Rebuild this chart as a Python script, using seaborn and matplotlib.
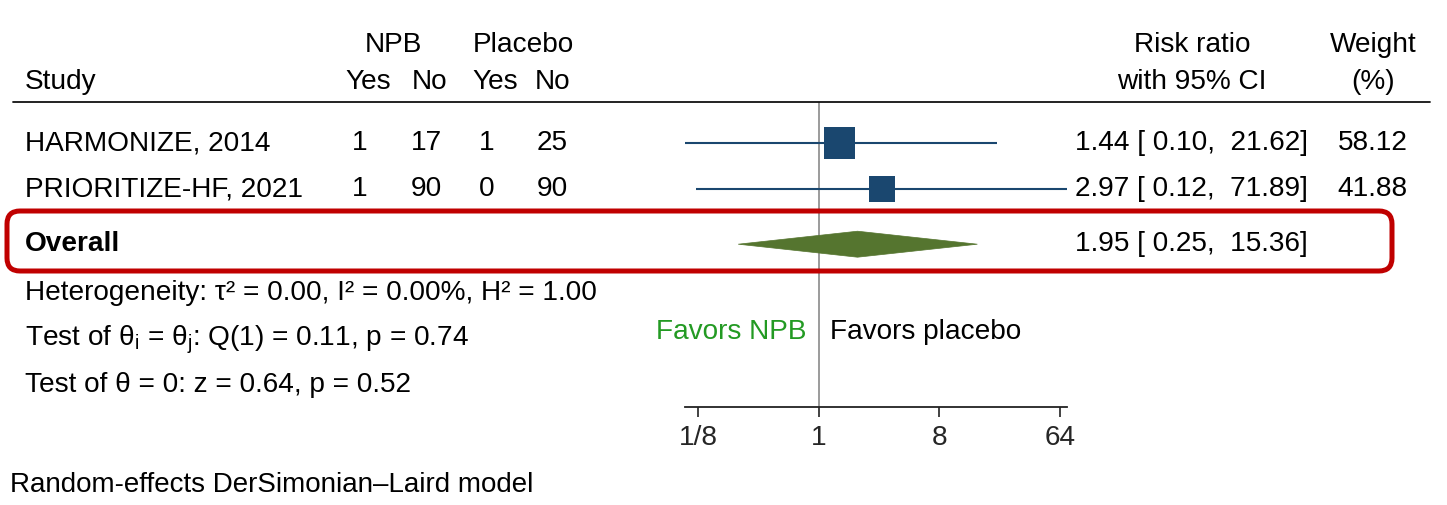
import numpy as np
import pandas as pd
import matplotlib
matplotlib.use("Agg")
import matplotlib.pyplot as plt
import matplotlib.transforms as mtransforms
from matplotlib.lines import Line2D
from matplotlib.patches import FancyBboxPatch, Polygon
import seaborn as sns

# ---- data -------------------------------------------------------------
studies = ["HARMONIZE, 2014", "PRIORITIZE-HF, 2021"]
npb_yes = [1, 1]
npb_no = [17, 90]
pbo_yes = [1, 0]
pbo_no = [25, 90]
rr = [1.44, 2.97]
ci_low = [0.10, 0.12]
ci_high = [21.62, 71.89]
weight = [58.12, 41.88]

overall_rr = 1.95
overall_low = 0.25
overall_high = 15.36

tick_values = [1 / 8, 1, 8, 64]
tick_labels = ["1/8", "1", "8", "64"]

heterogeneity = "Heterogeneity: τ² = 0.00, I² = 0.00%, H² = 1.00"
test_homog = r"Test of θ$_\mathrm{i}$ = θ$_\mathrm{j}$: Q(1) = 0.11, p = 0.74"
test_zero = "Test of θ = 0: z = 0.64, p = 0.52"
model_note = "Random-effects DerSimonian–Laird model"

# ---- style ------------------------------------------------------------
sns.set_theme(style="white")
plt.rcParams["font.family"] = ["Liberation Sans", "DejaVu Sans"]
plt.rcParams["mathtext.fontset"] = "custom"
plt.rcParams["mathtext.rm"] = "Liberation Sans"
plt.rcParams["mathtext.it"] = "Liberation Sans:italic"

W, H = 1447, 505
fig = plt.figure(figsize=(W / 100, H / 100), dpi=100)
fig.patch.set_facecolor("white")

FS = 20.2
NAVY = "#1a476f"
FOREST = "#55752f"
GREEN = "#239a23"


def fx(x):
    return x / W


def fy(y):
    return 1 - y / H


def put(x, y, s, ha="left", **kw):
    fig.text(fx(x), fy(y), s, ha=ha, va="center", fontsize=kw.pop("fontsize", FS),
             color=kw.pop("color", "black"), **kw)


# ---- forest panel -----------------------------------------------------
ax_left, ax_right, ax_top, ax_bottom = 685, 1067, 102, 407
ax = fig.add_axes([fx(ax_left), fy(ax_bottom), (ax_right - ax_left) / W,
                   (ax_bottom - ax_top) / H])
ax.set_facecolor("none")
ax.set_xscale("log", base=2)
ax.set_xlim(min(ci_low), max(ci_high))

row_px = 46.0
study_rows = [0.0, 1.0]
overall_row = 2.2
ax.set_ylim((ax_bottom - 143) / row_px, (ax_top - 143) / row_px)

for s in ["left", "right", "top"]:
    ax.spines[s].set_visible(False)
ax.spines["bottom"].set_color("#222222")
ax.spines["bottom"].set_linewidth(1.3)
ax.set_yticks([])
ax.set_xticks(tick_values)
ax.set_xticklabels(tick_labels, fontsize=FS)
ax.xaxis.set_minor_locator(matplotlib.ticker.NullLocator())
ax.tick_params(axis="x", direction="out", length=7, width=1.2, color="#222222",
               pad=6, bottom=True)

ax.axvline(1, color="#8a8a8a", lw=1.2, zorder=1)

ax.hlines(study_rows, ci_low, ci_high, color=NAVY, lw=1.5, zorder=2)

df = pd.DataFrame({"rr": rr, "row": study_rows, "weight": weight})
sns.scatterplot(data=df, x="rr", y="row", size="weight",
                sizes=(min(weight) * 8.6, max(weight) * 8.6),
                size_norm=(min(weight), max(weight)),
                marker="s", color=NAVY, edgecolor=NAVY, linewidth=0,
                legend=False, ax=ax, zorder=3)
ax.set_xlabel("")
ax.set_ylabel("")

half_h = 13 / row_px
diamond = Polygon([[overall_low, overall_row], [overall_rr, overall_row - half_h],
                   [overall_high, overall_row], [overall_rr, overall_row + half_h]],
                  closed=True, facecolor=FOREST, edgecolor=FOREST, lw=0.5, zorder=3)
ax.add_patch(diamond)

# ---- header -----------------------------------------------------------
fig.add_artist(Line2D([fx(13), fx(1430)], [fy(102), fy(102)], color="#111111", lw=1.3))

put(393, 45, "NPB", ha="center")
put(523, 45, "Placebo", ha="center")
put(25, 82, "Study")
for x, lab in zip([368, 430, 495, 553], ["Yes", "No", "Yes", "No"]):
    put(x, 82, lab, ha="center")
put(1192, 45, "Risk ratio", ha="center")
put(1192, 82, "with 95% CI", ha="center")
put(1373, 45, "Weight", ha="center")
put(1373, 82, "(%)", ha="center")

# ---- study rows -------------------------------------------------------
row_y = [143, 189]
for i, name in enumerate(studies):
    y = row_y[i]
    put(25, y, name)
    for x, v in zip([360, 426, 487, 552], [npb_yes[i], npb_no[i], pbo_yes[i], pbo_no[i]]):
        put(x, y, str(v), ha="center")
    put(1308, y, f"{rr[i]:.2f} [ {ci_low[i]:.2f},  {ci_high[i]:.2f}]", ha="right")
    put(1408, y, f"{weight[i]:.2f}", ha="right")

put(25, 244, "Overall", fontweight="bold")
put(1308, 244, f"{overall_rr:.2f} [ {overall_low:.2f},  {overall_high:.2f}]", ha="right")

# highlight frame around the pooled estimate, laid out in pixel units
box = FancyBboxPatch((7, H - 271), 1392 - 7, 271 - 211,
                     boxstyle="round,pad=0,rounding_size=13",
                     transform=mtransforms.IdentityTransform(), fill=False,
                     edgecolor="#c00000", lw=3.6, zorder=5)
fig.add_artist(box)

# ---- statistics and notes ---------------------------------------------
put(25, 293, heterogeneity)
put(25, 340, test_homog)
put(25, 385, test_zero)

put(807, 332, "Favors NPB", ha="right", color=GREEN)
put(830, 332, "Favors placebo")

put(10, 485, model_note, fontsize=20)

fig.savefig("out.png", dpi=100, facecolor="white")
